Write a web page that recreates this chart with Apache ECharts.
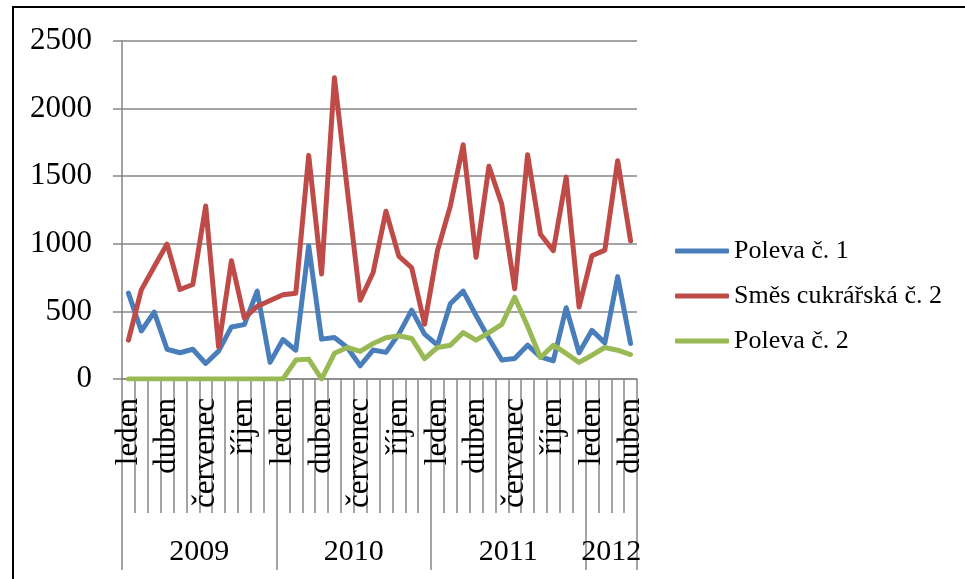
<!DOCTYPE html>
<html>
<head>
<meta charset="utf-8">
<script src="https://cdn.jsdelivr.net/npm/echarts@6/dist/echarts.min.js"></script>
<style>
html,body{margin:0;padding:0;background:#fff;}
#chart{width:965px;height:579px;}
</style>
</head>
<body>
<div id="chart"></div>
<script>
const monthNames = ['leden','únor','březen','duben','květen','červen','červenec','srpen','září','říjen','listopad','prosinec'];
const years = ['2009','2010','2011','2012'];
const monthsPerYear = [12, 12, 12, 4];
const yearLabelPositions = [6, 18, 30, 38];
const yearBoundaries = [0, 12, 24, 36, 40];

const poleva1 = [635,355,495,220,194,220,115,206,385,402,650,123,
                 292,213,985,295,307,233,98,214,197,332,509,332,
                 250,556,650,470,300,140,152,250,164,135,527,194,
                 360,267,757,262];
const smesCukrarska2 = [287,659,830,998,662,699,1279,238,875,451,537,581,
                        623,635,1654,777,2228,1400,582,786,1241,909,823,405,
                        949,1279,1733,900,1574,1292,667,1659,1071,949,1493,532,
                        912,953,1615,1022];
const poleva2 = [0,0,0,0,0,0,0,0,0,0,0,0,
                 0,140,147,0,190,233,204,262,305,320,300,150,
                 233,250,343,287,343,404,605,390,159,250,189,123,
                 176,233,213,181];
const yTicks = [0, 500, 1000, 1500, 2000, 2500];

const categories = [];
monthsPerYear.forEach(n => { for (let m = 0; m < n; m++) categories.push(monthNames[m]); });

const FONT = '"Liberation Serif", "Times New Roman", serif';
const GRAY = '#868686';

const chart = echarts.init(document.getElementById('chart'), null, {renderer: 'canvas'});
const lineSeries = (name, data, color) => ({
  name, type: 'line', data, xAxisIndex: 0, yAxisIndex: 0,
  symbol: 'none', smooth: false,
  lineStyle: {color, width: 5, join: 'round', cap: 'round'},
  itemStyle: {color},
  emphasis: {disabled: true}
});

chart.setOption({
  animation: false,
  backgroundColor: '#fff',
  textStyle: {fontFamily: FONT},
  graphic: [{
    type: 'rect', silent: true, z: 100,
    shape: {x: 13, y: 7, width: 1000, height: 1000},
    style: {fill: null, stroke: '#000', lineWidth: 2}
  }],
  grid: {left: 122, right: 328, top: 41, bottom: 200, containLabel: false},
  legend: {
    orient: 'vertical', left: 675, top: 238, padding: 0,
    itemWidth: 54, itemHeight: 5, itemGap: 19,
    icon: 'roundRect',
    textStyle: {fontFamily: FONT, fontSize: 26, color: '#000', lineHeight: 26},
    data: ['Poleva č. 1', 'Směs cukrářská č. 2', 'Poleva č. 2']
  },
  xAxis: [{
    type: 'category', data: categories, boundaryGap: true, position: 'bottom',
    axisLine: {show: true, lineStyle: {color: GRAY, width: 1.5}},
    axisTick: {show: true, interval: 0, length: 134, lineStyle: {color: GRAY, width: 1.5}},
    axisLabel: {interval: 2, rotate: 90, margin: 19, fontSize: 31, fontFamily: FONT, color: '#000'},
    splitLine: {show: false}
  }, {
    type: 'value', min: 0, max: 40, position: 'bottom', offset: 134,
    axisLine: {show: false},
    axisTick: {show: true, customValues: yearBoundaries, length: 57, lineStyle: {color: GRAY, width: 1.5}},
    axisLabel: {
      customValues: yearLabelPositions, margin: 24, fontSize: 30, fontFamily: FONT, color: '#000',
      formatter: v => years[yearLabelPositions.indexOf(v)]
    },
    splitLine: {show: false}
  }],
  yAxis: {
    type: 'value', min: yTicks[0], max: yTicks[yTicks.length - 1], interval: 500,
    axisLine: {show: true, lineStyle: {color: GRAY, width: 1.5}},
    axisTick: {show: true, length: 9, lineStyle: {color: GRAY, width: 1.5}},
    axisLabel: {margin: 30, fontSize: 31, fontFamily: FONT, color: '#000', formatter: v => String(v)},
    splitLine: {show: true, lineStyle: {color: GRAY, width: 1.5}}
  },
  series: [
    lineSeries('Poleva č. 1', poleva1, '#4A7EBB'),
    lineSeries('Směs cukrářská č. 2', smesCukrarska2, '#BE4B48'),
    lineSeries('Poleva č. 2', poleva2, '#98B954')
  ]
});
</script>
</body>
</html>
